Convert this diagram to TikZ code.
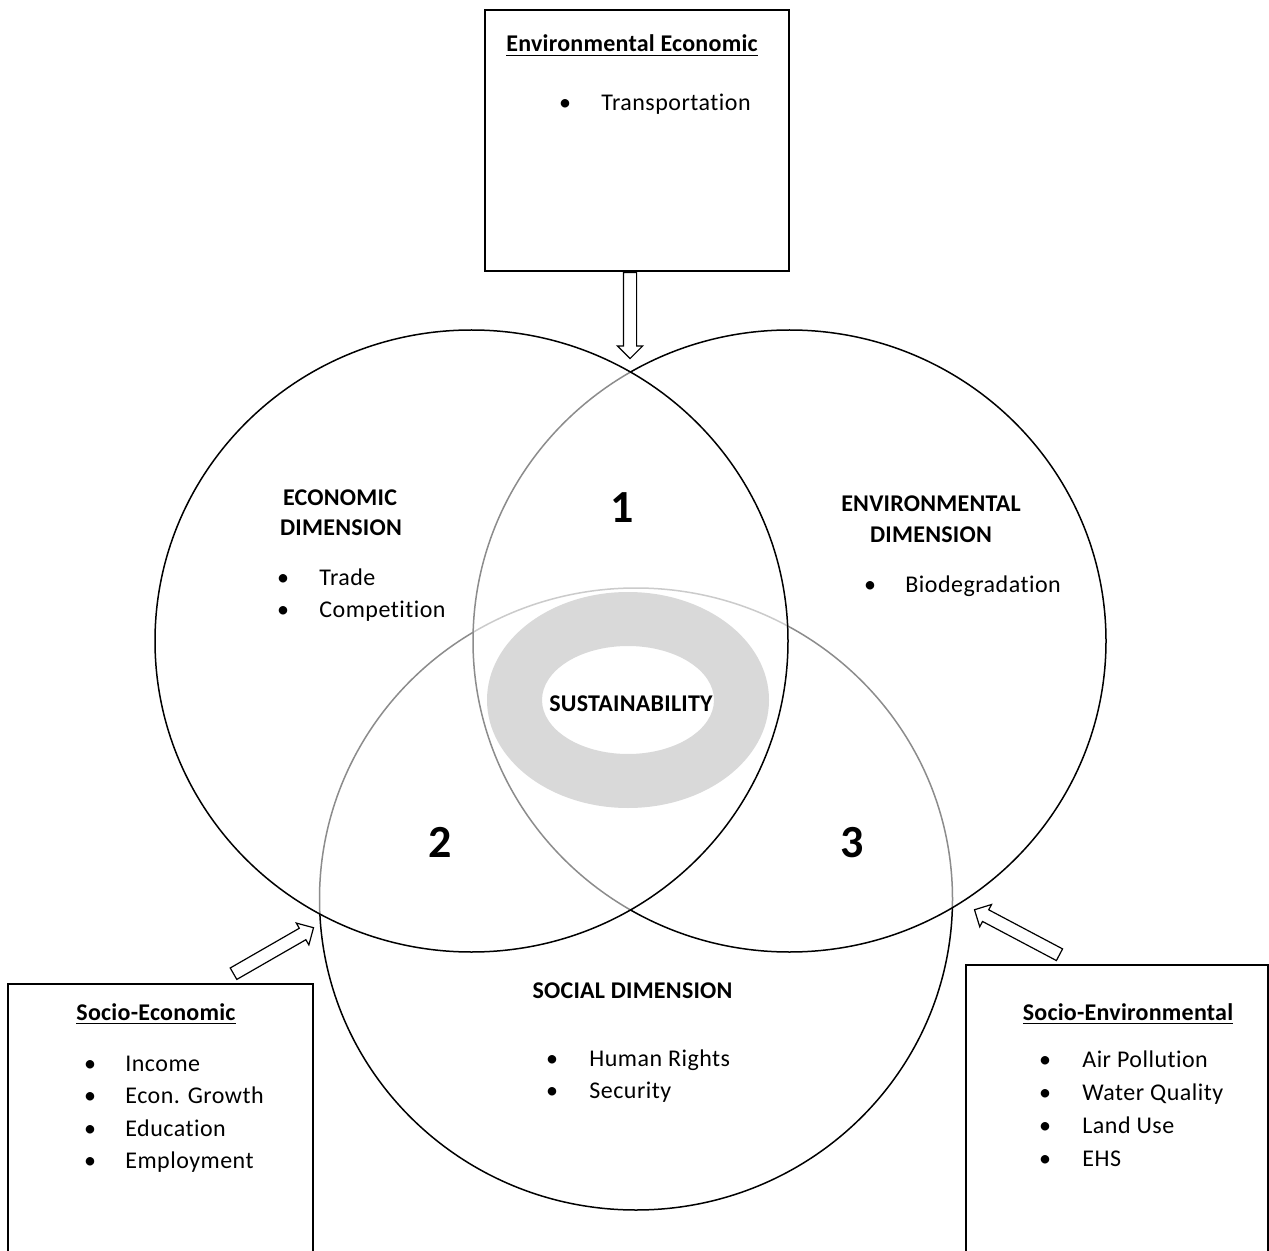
\documentclass[tikz,border=0pt]{standalone}
\usepackage{fontspec}
\setmainfont{Carlito}[Ligatures=NoCommon]
\usetikzlibrary{shapes.arrows,calc}
\newcommand\blockarrowdraw[3]{% name, from, to
  \path let \p1=($(#3)-(#2)$), \n1={atan2(\y1,\x1)}, \n2={veclen(\x1,\y1)} in
    node[blockarrow, rotate=\n1, anchor=tail, minimum height=\n2] (#1) at (#2) {};}
\newcommand\bulletlist[6]{% prefix, bullet x, text x, first baseline, step, items
  \foreach \t [count=\i] in {#6} {
    \node[body, anchor=base] (#1b\i) at (#2,{#4+(\i-1)*#5}) {•};
    \node[body, anchor=base west] (#1t\i) at (#3,{#4+(\i-1)*#5}) {\t};
  }}
\begin{document}
\begin{tikzpicture}[x=0.5pt,y=-0.5pt,
  box/.style={draw, line width=0.7pt, rectangle, inner sep=0pt},
  circ/.style={line width=0.75pt, draw=black},
  veil/.style={fill=white, fill opacity=0.55},
  blockarrow/.style={draw, single arrow, single arrow head extend=3pt,
    inner xsep=0pt, inner ysep=3pt, line width=0.6pt, fill=white},
  body/.style={font=\fontsize{12}{14}\selectfont\addfontfeatures{LetterSpace=2}, inner sep=0pt},
  dimlabel/.style={font=\fontsize{12}{14}\selectfont\bfseries\addfontfeatures{LetterSpace=1}, inner sep=0pt},
  boxtitle/.style={font=\fontsize{12}{14}\selectfont\bfseries\addfontfeatures{LetterSpace=1}, inner sep=0pt},
  num/.style={font=\fontsize{23}{26}\selectfont\bfseries, inner sep=0pt}
]
\useasboundingbox (0,0) rectangle (1269,1251);
\fill[white] (0,0) rectangle (1269,1251);

% circles: bottom first, then right, then left (each veils what lies below)
\draw[circ] (636,899) ellipse [x radius=316.5, y radius=311];
\fill[veil] (789.5,641) ellipse [x radius=316.5, y radius=311];
\draw[circ] (789.5,641) ellipse [x radius=316.5, y radius=311];
\fill[veil] (471.5,641) ellipse [x radius=316.5, y radius=311];
\draw[circ] (471.5,641) ellipse [x radius=316.5, y radius=311];

% sustainability ring
\fill[fill=black!15, even odd rule]
  (628,700) ellipse [x radius=141, y radius=108]
  (628,700) ellipse [x radius=86, y radius=54];

% top box
\node[box, minimum width=152pt, minimum height=130.5pt] (topbox) at (637,140.5) {};
\node[boxtitle, anchor=base] (topttl) at (632,52) {\underline{Environmental Economic}};
\bulletlist{top}{565}{601}{111}{33}{Transportation}

% bottom-left box (open at the bottom edge of the picture)
\coordinate (slA) at (8,1251);
\coordinate (slB) at (313,1251);
\draw[line width=0.7pt] (slA) -- (8,984) coordinate (slC) -- (313,984) coordinate (slD) -- (slB);
\node[boxtitle, anchor=base] (slttl) at (156,1020) {\underline{Socio-Economic}};
\bulletlist{sl}{90}{125}{1071}{32.5}{Income,Econ. Growth,Education,Employment}

% bottom-right box
\coordinate (srA) at (966,1251);
\coordinate (srB) at (1268,1251);
\draw[line width=0.7pt] (srA) -- (966,965) coordinate (srC) -- (1268,965) coordinate (srD) -- (srB);
\node[boxtitle, anchor=base] (srttl) at (1128,1020) {\underline{Socio-Environmental}};
\bulletlist{sr}{1045}{1082}{1067}{33}{Air Pollution,Water Quality,Land Use,EHS}

% arrows
\coordinate (tA) at (630,272);
\coordinate (tB) at (630,358);
\blockarrowdraw{arrT}{tA}{tB}
\coordinate (lA) at (233,974);
\coordinate (lB) at (313,928);
\blockarrowdraw{arrL}{lA}{lB}
\coordinate (rA) at (1060,955);
\coordinate (rB) at (975,910);
\blockarrowdraw{arrR}{rA}{rB}

% circle labels
\node[dimlabel, anchor=base] (ecoA) at (340,505) {ECONOMIC};
\node[dimlabel, anchor=base] (ecoB) at (341,535) {DIMENSION};
\bulletlist{eco}{283}{319}{585}{32.5}{Trade,Competition}

\node[dimlabel, anchor=base] (envA) at (931,511) {ENVIRONMENTAL};
\node[dimlabel, anchor=base] (envB) at (931,542) {DIMENSION};
\bulletlist{env}{870}{905}{592}{33}{Biodegradation}

\node[dimlabel, anchor=base] (socA) at (632.5,998) {SOCIAL DIMENSION};
\bulletlist{soc}{552}{589}{1066}{32.5}{Human Rights,Security}

\node[dimlabel, anchor=base] (sust) at (631,711) {SUSTAINABILITY};

\node[num, anchor=base] (n1) at (622,523) {1};
\node[num, anchor=base] (n2) at (440,857) {2};
\node[num, anchor=base] (n3) at (852,857) {3};
\end{tikzpicture}
\end{document}
